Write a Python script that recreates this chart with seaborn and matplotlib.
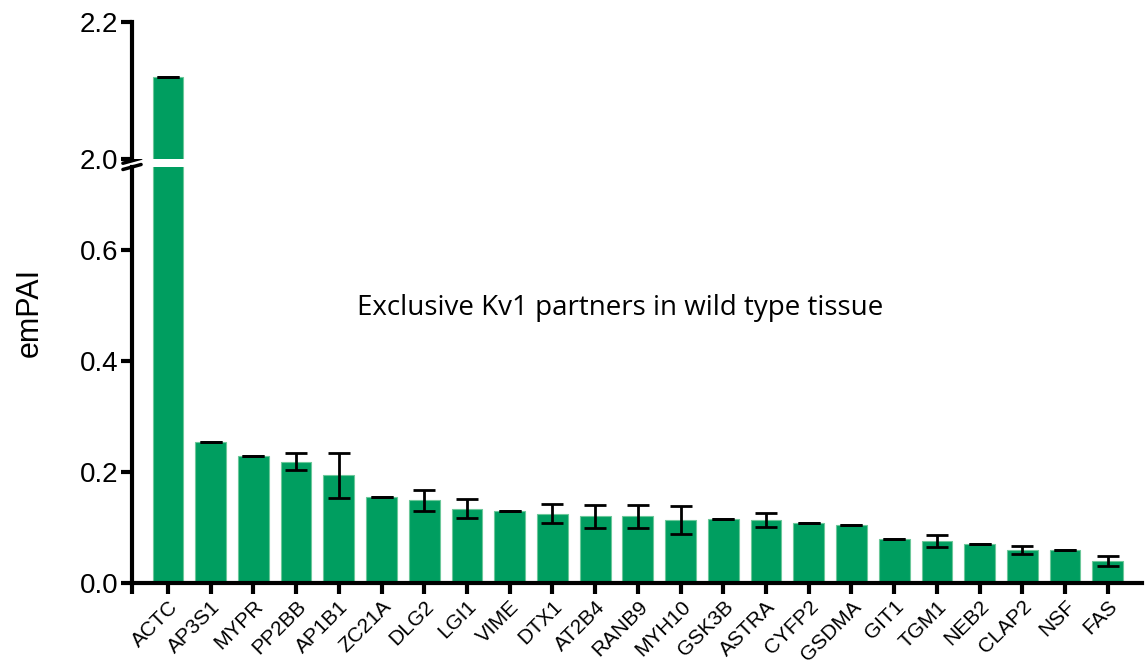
import numpy as np
import matplotlib
matplotlib.use("Agg")
import matplotlib.pyplot as plt
import seaborn as sns

# data
genes = ["ACTC", "AP3S1", "MYPR", "PP2BB", "AP1B1", "ZC21A", "DLG2", "LGI1",
         "VIME", "DTX1", "AT2B4", "RANB9", "MYH10", "GSK3B", "ASTRA", "CYFP2",
         "GSDMA", "GIT1", "TGM1", "NEB2", "CLAP2", "NSF", "FAS"]
empai = [2.119, 0.255, 0.229, 0.219, 0.194, 0.155, 0.149, 0.134,
         0.130, 0.125, 0.120, 0.120, 0.114, 0.115, 0.114, 0.109,
         0.104, 0.080, 0.076, 0.070, 0.060, 0.060, 0.040]
sem = [0.0, 0.0, 0.0, 0.016, 0.040, 0.0, 0.019, 0.0175,
       0.0, 0.0175, 0.021, 0.021, 0.025, 0.0, 0.013, 0.0,
       0.0, 0.0, 0.0105, 0.0, 0.0075, 0.0, 0.0095]

sns.set_style("ticks")
plt.rcParams["font.family"] = ["Liberation Sans", "DejaVu Sans"]
for k in ["text.color", "axes.labelcolor", "xtick.color", "ytick.color",
          "axes.edgecolor"]:
    plt.rcParams[k] = "black"

green = "#009e60"
W, H = 1146, 666
fig = plt.figure(figsize=(W / 100, H / 100), dpi=100)
left, right = 132 / W, 1142 / W
ax = fig.add_axes([left, 1 - 583 / H, right - left, (583 - 167) / H])
ax_top = fig.add_axes([left, 1 - 159 / H, right - left, (159 - 22) / H])

x = np.arange(len(genes))
for a in (ax, ax_top):
    sns.barplot(x=genes, y=empai, ax=a, color=green, saturation=1, width=0.72,
                edgecolor="#6cc89a", linewidth=0.8)
    a.errorbar(x, empai, yerr=sem, fmt="none", ecolor="black",
               elinewidth=2, capsize=8, capthick=2, zorder=5)
    a.set_xlim(-0.84, len(genes) - 0.2)
    for s in ["top", "right"]:
        a.spines[s].set_visible(False)
    a.spines["left"].set_linewidth(3)
    a.spines["bottom"].set_linewidth(3)
    a.tick_params(axis="y", width=3, length=8, labelsize=20, pad=2)

ax.set_ylim(0, 0.75)
ax.set_yticks([0.0, 0.2, 0.4, 0.6])
ax.set_yticklabels(["0.0", "0.2", "0.4", "0.6"])
ax.tick_params(axis="x", width=3, length=8, labelsize=15, pad=2)
ax.set_xticks(x)
ax.set_xticklabels(genes, rotation=45, ha="right", rotation_mode="anchor")
ax.set_xticks([-0.84], minor=True)
ax.tick_params(axis="x", which="minor", width=3, length=8)
ax.set_xlabel("")

ax_top.set_ylim(2.0, 2.2)
ax_top.set_yticks([2.0, 2.2])
ax_top.set_yticklabels(["2.0", "2.2"])
ax_top.spines["bottom"].set_visible(False)
ax_top.set_xticks([])
ax_top.set_xlabel("")

# break marks on the y axis
kw = dict(transform=ax.transAxes, color="black", lw=2.5, clip_on=False)
for dy in (0.0, 0.015):
    ax.plot([-0.009, 0.009], [1.0 + dy - 0.006, 1.0 + dy + 0.006], **kw)

fig.text(30 / W, 1 - 312 / H, "emPAI", rotation=90, ha="center", va="center",
         fontsize=22)
ax.text(0.483, 0.661, "Exclusive Kv1 partners in wild type tissue",
        transform=ax.transAxes, ha="center", va="center", fontsize=20,
        family=["Open Sans", "DejaVu Sans"])

fig.savefig("out.png", dpi=100)
